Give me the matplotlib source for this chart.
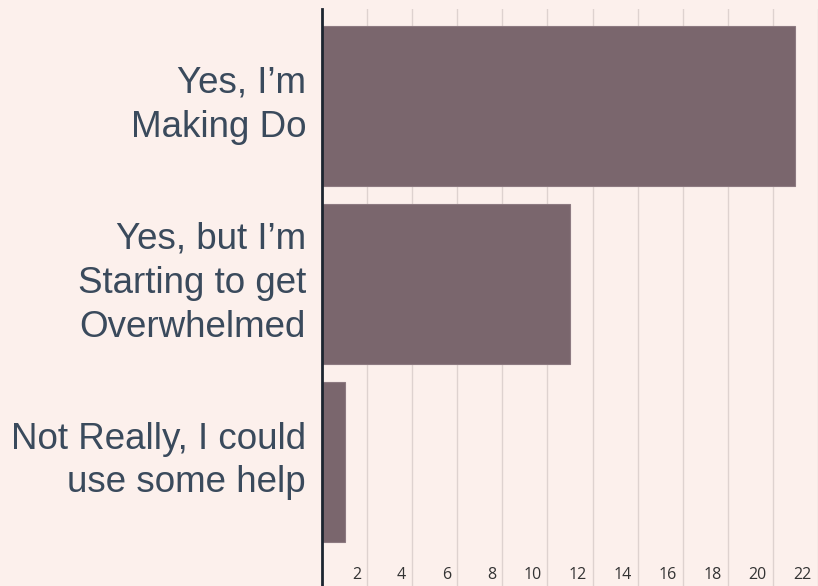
import matplotlib
matplotlib.use("Agg")
import matplotlib.pyplot as plt
from matplotlib.transforms import ScaledTranslation

categories = ["Yes, I’m\nMaking Do", "Yes, but I’m\nStarting to get\nOverwhelmed", "Not Really, I could\nuse some help"]
values = [21, 11, 1]
xticks = [2, 4, 6, 8, 10, 12, 14, 16, 18, 20, 22]

BG = "#fcf0ec"
BAR = "#7a666d"
TXT = "#3a4a5c"

W, H = 818, 586
fig = plt.figure(figsize=(W / 100, H / 100), dpi=100, facecolor=BG)
ax = fig.add_axes([322 / W, 0, (W - 322) / W, (H - 9) / H], facecolor=BG)

ypos = list(range(len(categories)))
ax.barh(ypos, values, height=0.9, color=BAR, edgecolor="#8d7a81", linewidth=0.8, zorder=3)

ax.set_xlim(0, (W - 322) / 22.65)
ax.set_ylim(2.70, -0.5455)

ax.set_xticks(xticks)
ax.set_xticklabels([str(t) for t in xticks])
ax.tick_params(axis="x", length=0, pad=-14, labelsize=11.5, labelcolor="#333333")
for lab in ax.get_xticklabels():
    lab.set_horizontalalignment("right")
    lab.set_fontfamily("Open Sans")
    lab.set_transform(lab.get_transform() + ScaledTranslation(-6 / 100, 0, fig.dpi_scale_trans))
ax.grid(axis="x", color="#ded2cf", linewidth=1.0, zorder=0)

ax.set_yticks(ypos)
ax.set_yticklabels(categories)
ax.tick_params(axis="y", length=0, pad=11.5, labelsize=26.5, labelcolor=TXT)
for lab in ax.get_yticklabels():
    lab.set_fontfamily("Liberation Sans")
    lab.set_horizontalalignment("right")
    lab.set_multialignment("right")
    lab.set_linespacing(1.33)
    lab.set_transform(lab.get_transform() + ScaledTranslation(0, 9 / 100, fig.dpi_scale_trans))

for s in ["top", "right", "bottom"]:
    ax.spines[s].set_visible(False)
ax.spines["left"].set_color("#1c2530")
ax.spines["left"].set_linewidth(2)
ax.spines["left"].set_zorder(4)

fig.savefig("out.png", dpi=100, facecolor=BG)
